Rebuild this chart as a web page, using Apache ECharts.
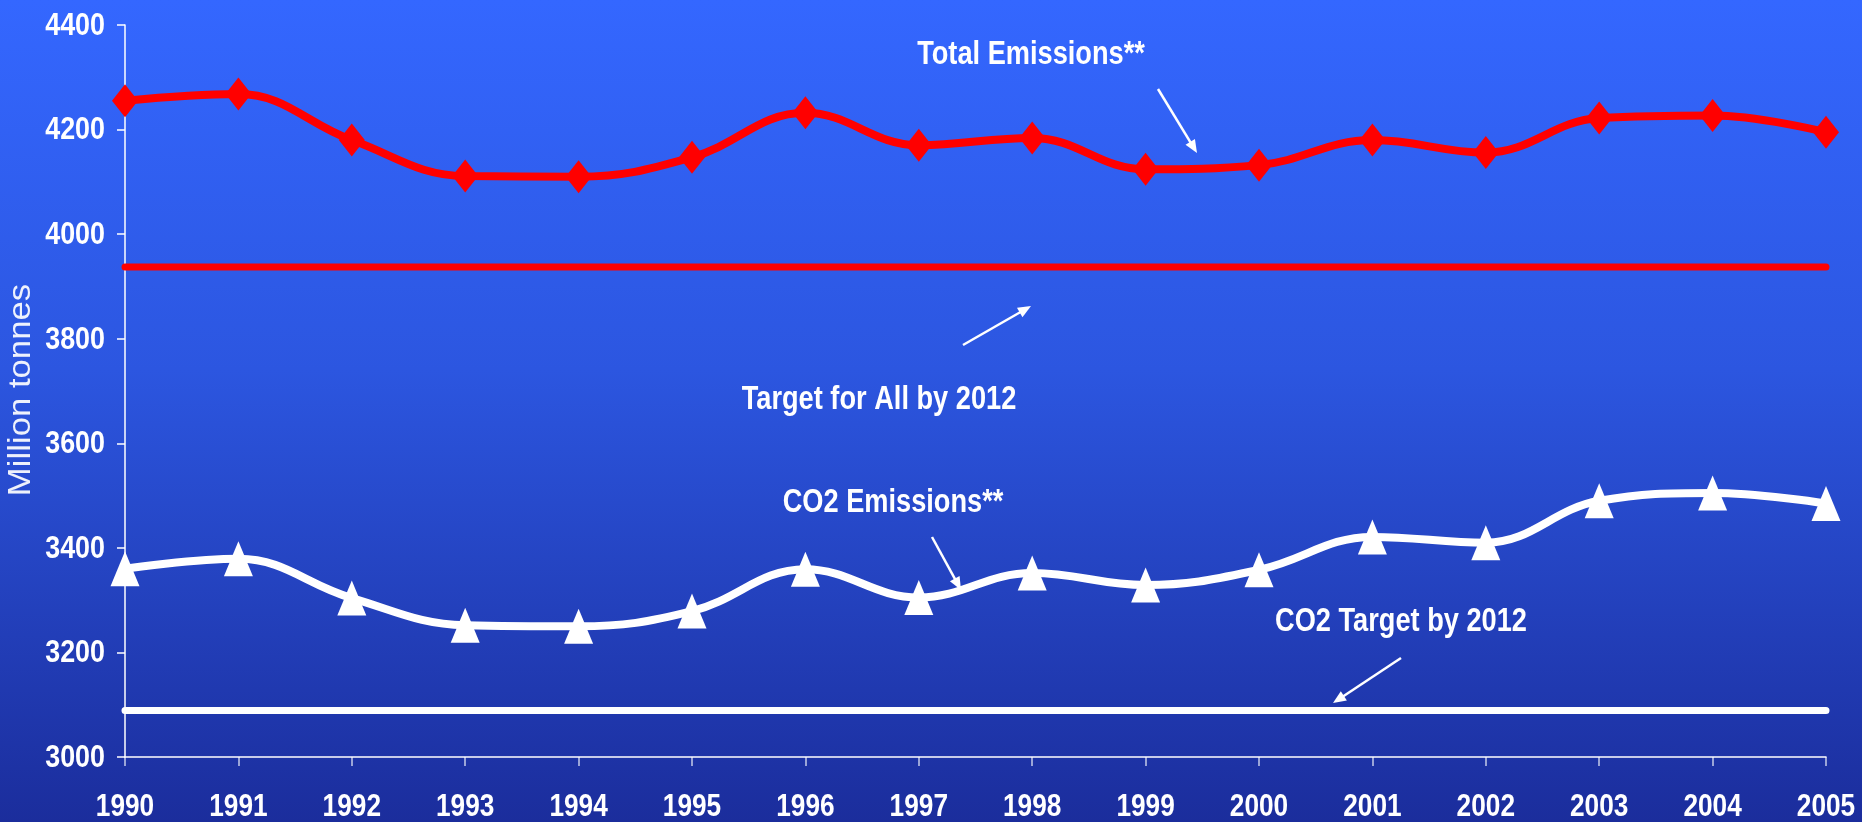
<!DOCTYPE html>
<html>
<head>
<meta charset="utf-8">
<script src="https://cdn.jsdelivr.net/npm/echarts@6/dist/echarts.min.js"></script>
<style>
  html, body { margin: 0; padding: 0; }
  #chart { width: 1862px; height: 822px; background: linear-gradient(to bottom, #3467ff 0%, #2c56e0 45%, #1b2d9c 100%); }
</style>
</head>
<body>
<div id="chart"></div>
<script>
// ---- data ----
const years = ['1990','1991','1992','1993','1994','1995','1996','1997','1998','1999','2000','2001','2002','2003','2004','2005'];
const totalEmissions = [4255, 4268, 4180, 4111, 4110, 4147, 4232, 4170, 4184, 4124, 4132, 4180, 4156, 4222, 4227, 4195];
const co2Emissions   = [3360, 3379, 3304, 3252, 3250, 3279, 3359, 3305, 3352, 3329, 3358, 3421, 3410, 3490, 3505, 3485];
const targetAll2012 = 3937;
const targetCO2_2012 = 3089;
const yTickValues = [3000, 3200, 3400, 3600, 3800, 4000, 4200, 4400];
const yAxisName = 'Million tonnes';
const annotations = [
  { text: 'Total Emissions**', x: 1031, y: 55 },
  { text: 'Target for All by 2012', x: 879, y: 400 },
  { text: 'CO2 Emissions**', x: 893, y: 503 },
  { text: 'CO2 Target by 2012', x: 1401, y: 622 }
];
const arrows = [
  [1158, 89, 1197, 153],
  [963, 345, 1031, 306],
  [932, 537, 961, 590],
  [1401, 658, 1333, 703]
];

const BOLD = "bold 32px 'Liberation Sans', Arial, sans-serif";
const ANNOT = "bold 34px 'Liberation Sans', Arial, sans-serif";
const NARROW = 0.82;

function arrowGraphic(a) {
  const [x1, y1, x2, y2] = a;
  const dx = x2 - x1, dy = y2 - y1;
  const len = Math.sqrt(dx * dx + dy * dy);
  const ux = dx / len, uy = dy / len;
  const hl = 13, hw = 5.5;
  const bx = x2 - ux * hl, by = y2 - uy * hl;
  return [
    { type: 'line', shape: { x1: x1, y1: y1, x2: bx + ux * 2, y2: by + uy * 2 },
      style: { stroke: '#fff', lineWidth: 2.5 }, z: 100 },
    { type: 'polygon', shape: { points: [[x2, y2], [bx - uy * hw, by + ux * hw], [bx + uy * hw, by - ux * hw]] },
      style: { fill: '#fff' }, z: 100 }
  ];
}

const chart = echarts.init(document.getElementById('chart'), null, { renderer: 'canvas' });
chart.setOption({
  backgroundColor: 'transparent',
  animation: false,
  grid: { left: 125, right: 36, top: 25, bottom: 65, containLabel: false },
  xAxis: {
    type: 'category',
    data: years,
    boundaryGap: false,
    axisLine: { lineStyle: { color: '#fff', width: 1.5 } },
    axisTick: { show: true, length: 9, alignWithLabel: true, lineStyle: { color: 'rgba(255,255,255,0.75)', width: 1.5 } },
    axisLabel: { show: false },
    splitLine: { show: false }
  },
  yAxis: {
    type: 'value',
    min: yTickValues[0], max: yTickValues[yTickValues.length - 1], interval: yTickValues[1] - yTickValues[0],
    axisLine: { show: true, lineStyle: { color: '#fff', width: 1.5 } },
    axisTick: { show: true, length: 8, lineStyle: { color: '#fff', width: 1.5 } },
    axisLabel: { show: false },
    splitLine: { show: false }
  },
  series: [
    {
      name: 'Target for All by 2012', type: 'line',
      data: years.map(() => targetAll2012),
      showSymbol: false, symbol: 'none',
      lineStyle: { color: '#ff0000', width: 7, cap: 'round' }, z: 2
    },
    {
      name: 'CO2 Target by 2012', type: 'line',
      data: years.map(() => targetCO2_2012),
      showSymbol: false, symbol: 'none',
      lineStyle: { color: '#ffffff', width: 7, cap: 'round' }, z: 2
    },
    {
      name: 'Total Emissions**', type: 'line',
      data: totalEmissions, smooth: 0.4,
      symbol: 'diamond', symbolSize: [26, 33],
      itemStyle: { color: '#ff0000' },
      lineStyle: { color: '#ff0000', width: 8 }, z: 3
    },
    {
      name: 'CO2 Emissions**', type: 'line',
      data: co2Emissions, smooth: 0.4,
      symbol: 'triangle', symbolSize: [29, 35],
      itemStyle: { color: '#ffffff' },
      lineStyle: { color: '#ffffff', width: 8 }, z: 3
    }
  ]
});

// Narrow (condensed) text for tick labels and annotations, positioned from the axes' own scales.
const graphics = [];
const axisX0 = chart.convertToPixel({ xAxisIndex: 0 }, years[0]);
const axisYBottom = chart.convertToPixel({ yAxisIndex: 0 }, yTickValues[0]);
const axisYTop = chart.convertToPixel({ yAxisIndex: 0 }, yTickValues[yTickValues.length - 1]);
years.forEach(yr => {
  const px = chart.convertToPixel({ xAxisIndex: 0 }, yr);
  graphics.push({ type: 'text', x: px, y: axisYBottom + 50, scaleX: NARROW, z: 50,
    style: { text: yr, fill: '#fff', font: BOLD, textAlign: 'center', textVerticalAlign: 'middle' } });
});
yTickValues.forEach(v => {
  const py = chart.convertToPixel({ yAxisIndex: 0 }, v);
  graphics.push({ type: 'text', x: axisX0 - 20, y: py + 1, scaleX: 0.84, z: 50,
    style: { text: String(v), fill: '#fff', font: BOLD, textAlign: 'right', textVerticalAlign: 'middle' } });
});
graphics.push({ type: 'text', x: 21, y: (axisYTop + axisYBottom) / 2 - 1, rotation: Math.PI / 2, scaleX: 1.12, z: 50,
  style: { text: yAxisName, fill: 'rgba(255,255,255,0.92)', font: "31px 'Liberation Sans', Arial, sans-serif", textAlign: 'center', textVerticalAlign: 'middle' } });
annotations.forEach(a => graphics.push({
  type: 'text', x: a.x, y: a.y, scaleX: 0.8, z: 100,
  style: { text: a.text, fill: '#fff', font: ANNOT, textAlign: 'center', textVerticalAlign: 'middle' }
}));
arrows.forEach(a => arrowGraphic(a).forEach(g => graphics.push(g)));
chart.setOption({ graphic: graphics });
</script>
</body>
</html>
